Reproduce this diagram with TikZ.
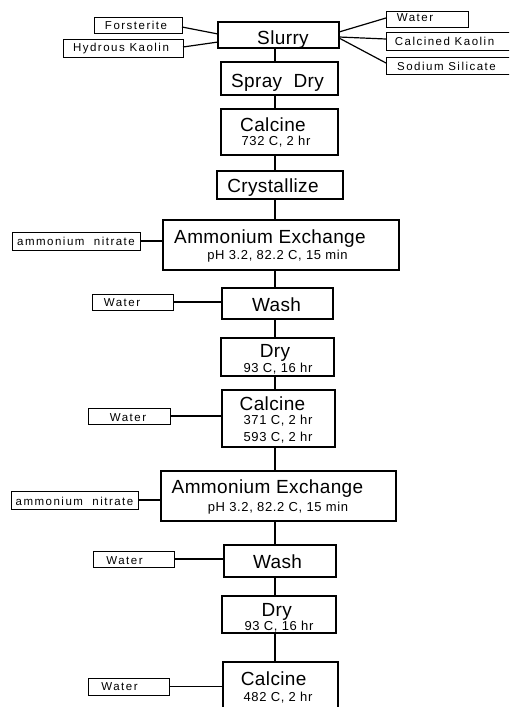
\documentclass[tikz,border=0pt]{standalone}
\usepackage{fontspec}
\setmainfont{Liberation Sans}
\newfontfamily\bigf[LetterSpace=2]{Liberation Sans}
\newfontfamily\subf[LetterSpace=5]{Liberation Sans}
\newfontfamily\labf[LetterSpace=13]{Liberation Sans}
\tikzset{
  mainbox/.style={draw, line width=1.6pt, inner sep=0pt, outer sep=0pt},
  labbox/.style={draw, line width=0.9pt, inner sep=0pt, outer sep=0pt},
  bigtxt/.style={font=\bigf\fontsize{19}{22}\selectfont, inner sep=0pt, anchor=base},
  subtxt/.style={font=\subf\fontsize{13}{15}\selectfont, inner sep=0pt, anchor=base},
  labtxt/.style={font=\labf\fontsize{11.5}{13}\selectfont, inner sep=0pt, anchor=base},
  conn/.style={line width=1.2pt}
}
\begin{document}
\begin{tikzpicture}[x=1pt,y=-1pt]
\useasboundingbox (0,0) rectangle (509,707);
\fill[white] (0,0) rectangle (509,707);
\clip (0,0) rectangle (509,707);
\coordinate (spine) at (275,0);
% main boxes
\node[mainbox, minimum width=121pt, minimum height=26pt] (slurry) at (278.5,35) {};
\node[mainbox, minimum width=117pt, minimum height=33pt] (spray) at (279.5,78.5) {};
\node[mainbox, minimum width=117pt, minimum height=46pt] (calcA) at (279.5,132) {};
\node[mainbox, minimum width=126pt, minimum height=28pt] (cryst) at (280,185) {};
\node[mainbox, minimum width=236pt, minimum height=50pt] (ammA) at (281,245) {};
\node[mainbox, minimum width=111pt, minimum height=31pt] (washA) at (277.5,303.5) {};
\node[mainbox, minimum width=113pt, minimum height=38pt] (dryA) at (277.5,357) {};
\node[mainbox, minimum width=113pt, minimum height=57pt] (calcB) at (278.5,418.5) {};
\node[mainbox, minimum width=235pt, minimum height=50pt] (ammB) at (278.5,496) {};
\node[mainbox, minimum width=112pt, minimum height=32pt] (washB) at (280,561) {};
\node[mainbox, minimum width=114pt, minimum height=37pt] (dryB) at (279,614.5) {};
\node[mainbox, minimum width=115pt, minimum height=58pt] (calcC) at (280.5,691) {};
% main texts
\node[bigtxt] (tslurry) at (283,44.5) {Slurry};
\node[bigtxt] (tspray) at (277.5,87) {Spray\ \ Dry};
\node[bigtxt] (tcalcA) at (273,131) {Calcine};
\node[subtxt] (scalcA) at (276,145) {732 C, 2 hr};
\node[bigtxt] (tcryst) at (273,192) {Crystallize};
\node[bigtxt] (tammA) at (270,243) {Ammonium Exchange};
\node[subtxt] (sammA) at (277.5,259) {pH 3.2, 82.2 C, 15 min};
\node[bigtxt] (twashA) at (276.5,311) {Wash};
\node[bigtxt] (tdryA) at (275,357) {Dry};
\node[subtxt] (sdryA) at (278,372) {93 C, 16 hr};
\node[bigtxt] (tcalcB) at (272.5,410) {Calcine};
\node[subtxt] (scalcB) at (278,424) {371 C, 2 hr};
\node[subtxt] (scalcB2) at (278,441) {593 C, 2 hr};
\node[bigtxt] (tammB) at (267.5,493) {Ammonium Exchange};
\node[subtxt] (sammB) at (278,511) {pH 3.2, 82.2 C, 15 min};
\node[bigtxt] (twashB) at (277.5,568) {Wash};
\node[bigtxt] (tdryB) at (276.7,616) {Dry};
\node[subtxt] (sdryB) at (279,630) {93 C, 16 hr};
\node[bigtxt] (tcalcC) at (273.7,685) {Calcine};
\node[subtxt] (scalcC) at (278,701) {482 C, 2 hr};
% label boxes
\node[labbox, minimum width=88pt, minimum height=16pt] (forst) at (138,25) {};
\node[labbox, minimum width=120pt, minimum height=18pt] (hydk) at (123,48) {};
\node[labbox, minimum width=82pt, minimum height=16pt] (waterO) at (427,19) {};
\node[labbox, minimum width=139pt, minimum height=18pt] (calck) at (455.5,41) {};
\node[labbox, minimum width=139pt, minimum height=17pt] (sodsil) at (455.5,65.5) {};
\node[labbox, minimum width=128pt, minimum height=18pt] (amnA) at (76,241) {};
\node[labbox, minimum width=81pt, minimum height=16pt] (wA) at (132.5,302) {};
\node[labbox, minimum width=82pt, minimum height=16pt] (wB) at (129,416) {};
\node[labbox, minimum width=127pt, minimum height=18pt] (amnB) at (74.5,500) {};
\node[labbox, minimum width=81pt, minimum height=16pt] (wC) at (133.5,559) {};
\node[labbox, minimum width=81pt, minimum height=17pt] (wD) at (128.5,686.5) {};
% label texts
\node[labtxt] (lforst) at (136,29.3) {Forsterite};
\node[labtxt] (lhydk) at (121,51.7) {Hydrous Kaolin};
\node[labtxt] (lwaterO) at (415,21.7) {Water};
\node[labtxt] (lcalck) at (444.5,45.7) {Calcined Kaolin};
\node[labtxt] (lsodsil) at (446.5,70) {Sodium Silicate};
\node[labtxt] (lamnA) at (76,245.7) {ammonium\ \ nitrate};
\node[labtxt] (lwA) at (122,306) {Water};
\node[labtxt] (lwB) at (128,421.7) {Water};
\node[labtxt] (lamnB) at (74.5,505) {ammonium\ \ nitrate};
\node[labtxt] (lwC) at (124.5,564) {Water};
\node[labtxt] (lwD) at (119.5,690.7) {Water};
% vertical connectors
\draw[conn] (slurry.south -| spine) -- (spray.north -| spine);
\draw[conn] (spray.south -| spine) -- (calcA.north -| spine);
\draw[conn] (calcA.south -| spine) -- (cryst.north -| spine);
\draw[conn] (cryst.south -| spine) -- (ammA.north -| spine);
\draw[conn] (ammA.south -| spine) -- (washA.north -| spine);
\draw[conn] (washA.south -| spine) -- (dryA.north -| spine);
\draw[conn] (dryA.south -| spine) -- (calcB.north -| spine);
\draw[conn] (calcB.south -| spine) -- (ammB.north -| spine);
\draw[conn] (ammB.south -| spine) -- (washB.north -| spine);
\draw[conn] (washB.south -| spine) -- (dryB.north -| spine);
\draw[conn] (dryB.south -| spine) -- (calcC.north -| spine);
% slurry feeds
\draw[conn] ([yshift=-2pt]forst.east) -- ([yshift=1pt]slurry.west);
\draw[conn] ([yshift=1pt]hydk.east) -- ([yshift=-7pt]slurry.west);
\draw[conn] ([yshift=3pt]slurry.east) -- ([yshift=1pt]waterO.west);
\draw[conn] ([yshift=-2pt]slurry.east) -- ([yshift=2pt]calck.west);
\draw[conn] ([yshift=-3pt]slurry.east) -- ([yshift=2.5pt]sodsil.west);
% side feeds
\draw[conn] (amnA.east) -- (amnA.east -| ammA.west);
\draw[conn] (wA.east) -- (wA.east -| washA.west);
\draw[conn] (wB.east) -- (wB.east -| calcB.west);
\draw[conn] (amnB.east) -- (amnB.east -| ammB.west);
\draw[conn] (wC.east) -- (wC.east -| washB.west);
\draw[conn] (wD.east) -- (wD.east -| calcC.west);
\end{tikzpicture}
\end{document}
